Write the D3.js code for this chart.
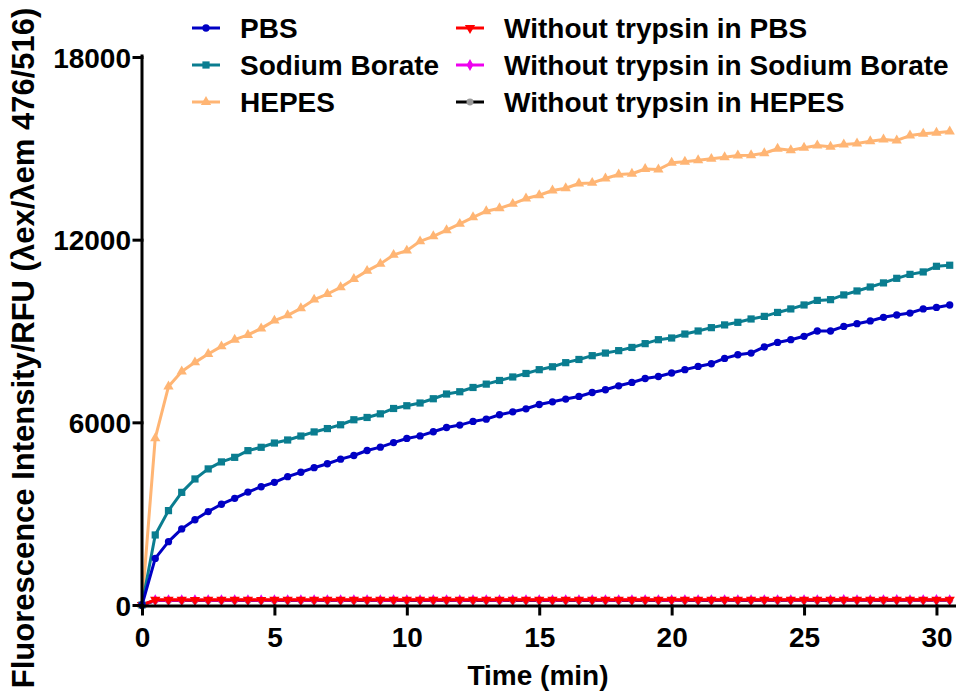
<!DOCTYPE html>
<html>
<head>
<meta charset="utf-8">
<script src="https://cdn.jsdelivr.net/npm/d3@7"></script>
<style>
html,body{margin:0;padding:0;background:#fff;}
svg text{font-family:"Liberation Sans",Arial,sans-serif;font-weight:bold;fill:#000;}
</style>
</head>
<body>
<svg id="chart" width="956" height="693"></svg>
<script>
// ---- data ----
const time = [0,0.5,1,1.5,2,2.5,3,3.5,4,4.5,5,5.5,6,6.5,7,7.5,8,8.5,9,9.5,10,10.5,11,11.5,12,12.5,13,13.5,14,14.5,15,15.5,16,16.5,17,17.5,18,18.5,19,19.5,20,20.5,21,21.5,22,22.5,23,23.5,24,24.5,25,25.5,26,26.5,27,27.5,28,28.5,29,29.5,30,30.5];

const pbs = [0,1530,2080,2500,2800,3070,3310,3505,3710,3885,4030,4215,4360,4510,4640,4790,4910,5075,5185,5335,5470,5555,5690,5830,5910,6030,6105,6250,6345,6445,6585,6675,6765,6850,6980,7070,7200,7310,7440,7505,7620,7730,7835,7925,8100,8220,8275,8475,8625,8715,8825,9000,9000,9150,9240,9330,9450,9525,9590,9725,9775,9855];

const sodiumBorate = [0,2300,3100,3700,4140,4470,4700,4850,5070,5180,5320,5420,5550,5685,5795,5920,6085,6160,6280,6455,6545,6635,6775,6930,7005,7145,7255,7375,7490,7605,7730,7825,7960,8065,8190,8275,8355,8460,8585,8715,8770,8900,9000,9110,9200,9285,9395,9480,9610,9725,9855,10005,10030,10185,10315,10445,10580,10730,10860,10940,11125,11160];

const hepes = [0,5480,7175,7670,7970,8245,8495,8715,8870,9085,9340,9515,9745,10030,10215,10435,10710,10975,11205,11500,11640,11945,12110,12310,12520,12735,12935,13030,13175,13350,13460,13615,13690,13845,13865,14010,14140,14165,14320,14305,14525,14560,14610,14655,14710,14765,14775,14840,14985,14940,15020,15095,15050,15125,15160,15235,15290,15260,15420,15480,15510,15555];

const noTrypsinPBS = [0,170,172,170,168,171,173,170,172,169,171,170,173,172,170,171,174,172,170,171,173,172,171,170,172,174,173,171,172,170,173,172,171,174,172,173,171,172,174,173,172,171,173,174,172,173,171,174,175,173,172,174,173,175,174,173,175,174,176,175,174,176];

const noTrypsinSB = [0,158,160,159,161,160,158,160,161,159,160,162,160,159,161,160,162,161,160,159,161,162,160,161,160,162,161,160,162,161,163,160,161,162,161,160,162,163,161,162,160,161,163,162,161,162,163,161,162,163,162,161,163,164,162,163,162,164,163,162,164,163];

const noTrypsinHEPES = [0,145,147,146,148,147,146,148,147,149,148,147,146,148,149,147,148,150,149,148,147,149,150,148,149,148,150,149,151,150,149,148,150,151,149,150,151,150,149,151,152,150,151,150,152,151,150,152,151,153,152,151,150,152,153,152,151,153,152,154,153,152];

const seriesNames = ["PBS","Sodium Borate","HEPES","Without trypsin in PBS","Without trypsin in Sodium Borate","Without trypsin in HEPES"];
const seriesColors = ["#0000c4","#0a7d90","#ffb574","#ff0000","#ee00ee","#000000"];
const markerFills = ["#0000c4","#0a7d90","#ffb574","#ff0000","#ee00ee","#9a9a9a"];
const seriesShapes = ["circle","square","triangle","triangleDown","diamond","circle"];
const xTicks = [0,5,10,15,20,25,30];
const yTicks = [0,6000,12000,18000];

// ---- chart ----
const svg = d3.select("#chart");
const x = d3.scaleLinear().domain([0,30.7]).range([142,955]);
const y = d3.scaleLinear().domain([0,18000]).range([605,57]);

const seriesData = [pbs,sodiumBorate,hepes,noTrypsinPBS,noTrypsinSB,noTrypsinHEPES];

function symbolFor(shape, size){
  const map = {circle:d3.symbolCircle, square:d3.symbolSquare, triangle:d3.symbolTriangle, triangleDown:d3.symbolTriangle, diamond:d3.symbolDiamond};
  return d3.symbol().type(map[shape]).size(size)();
}
const sizes = [42,52,46,46,40,38];

const line = d3.line().x((d,i)=>x(time[i])).y(d=>y(d));

// draw order: bottom series first, then HEPES, Sodium Borate, PBS
const order = [5,4,3,2,1,0];
order.forEach(si=>{
  const g = svg.append("g");
  g.append("path").datum(seriesData[si])
    .attr("d", line).attr("fill","none")
    .attr("stroke", seriesColors[si]).attr("stroke-width", 3)
    .attr("stroke-linejoin","round");
  g.selectAll("path.m").data(seriesData[si]).enter().append("path")
    .attr("class","m")
    .attr("d", symbolFor(seriesShapes[si], sizes[si]))
    .attr("transform",(d,i)=>`translate(${x(time[i])},${y(d)})${seriesShapes[si]==="triangleDown"?" rotate(180)":""}`)
    .attr("fill", markerFills[si]);
});

// axes
const xAxis = d3.axisBottom(x).tickValues(xTicks).tickSize(8).tickSizeOuter(0).tickFormat(d3.format("d"));
const gx = svg.append("g").attr("transform","translate(0,606)").call(xAxis);
gx.select(".domain").attr("stroke","#000").attr("stroke-width",3).attr("d","M140.5,0H956");
gx.selectAll(".tick line").attr("stroke","#000").attr("stroke-width",3);
gx.selectAll(".tick text").attr("font-size",28).attr("dy",0).attr("y",41).attr("fill","#000");

const yAxis = d3.axisLeft(y).tickValues(yTicks).tickSize(8).tickSizeOuter(0).tickFormat(d3.format("d"));
const gy = svg.append("g").attr("transform","translate(142,0)").call(yAxis);
gy.select(".domain").attr("stroke","#000").attr("stroke-width",3).attr("d","M0,56V607.5");
gy.selectAll(".tick line").attr("stroke","#000").attr("stroke-width",3);
gy.selectAll(".tick text").attr("font-size",28).attr("x",-11).attr("dy","0.36em").attr("fill","#000");
svg.selectAll(".domain, .tick line").attr("stroke-linecap","square");

// axis titles
svg.append("text").attr("x",538).attr("y",685).attr("text-anchor","middle")
  .attr("font-size",28).text("Time (min)");
svg.append("text").attr("transform","translate(34,348) rotate(-90)").attr("text-anchor","middle")
  .attr("font-size",31).text("Fluorescence Intensity/RFU (λex/λem 476/516)");

// legend
const legPos = [[192,28],[192,65],[192,102],[456,28],[456,65],[456,102]];
seriesNames.forEach((name,i)=>{
  const [lx,ly] = legPos[i];
  const g = svg.append("g");
  g.append("line").attr("x1",lx).attr("x2",lx+28).attr("y1",ly).attr("y2",ly)
    .attr("stroke",seriesColors[i]).attr("stroke-width",3);
  g.append("path").attr("d",symbolFor(seriesShapes[i],sizes[i]))
    .attr("transform",`translate(${lx+14},${ly})${seriesShapes[i]==="triangleDown"?" rotate(180)":""}`)
    .attr("fill",markerFills[i]);
  g.append("text").attr("x",lx+48).attr("y",ly).attr("dy","0.36em")
    .attr("font-size",28).text(name);
});
</script>
</body>
</html>
